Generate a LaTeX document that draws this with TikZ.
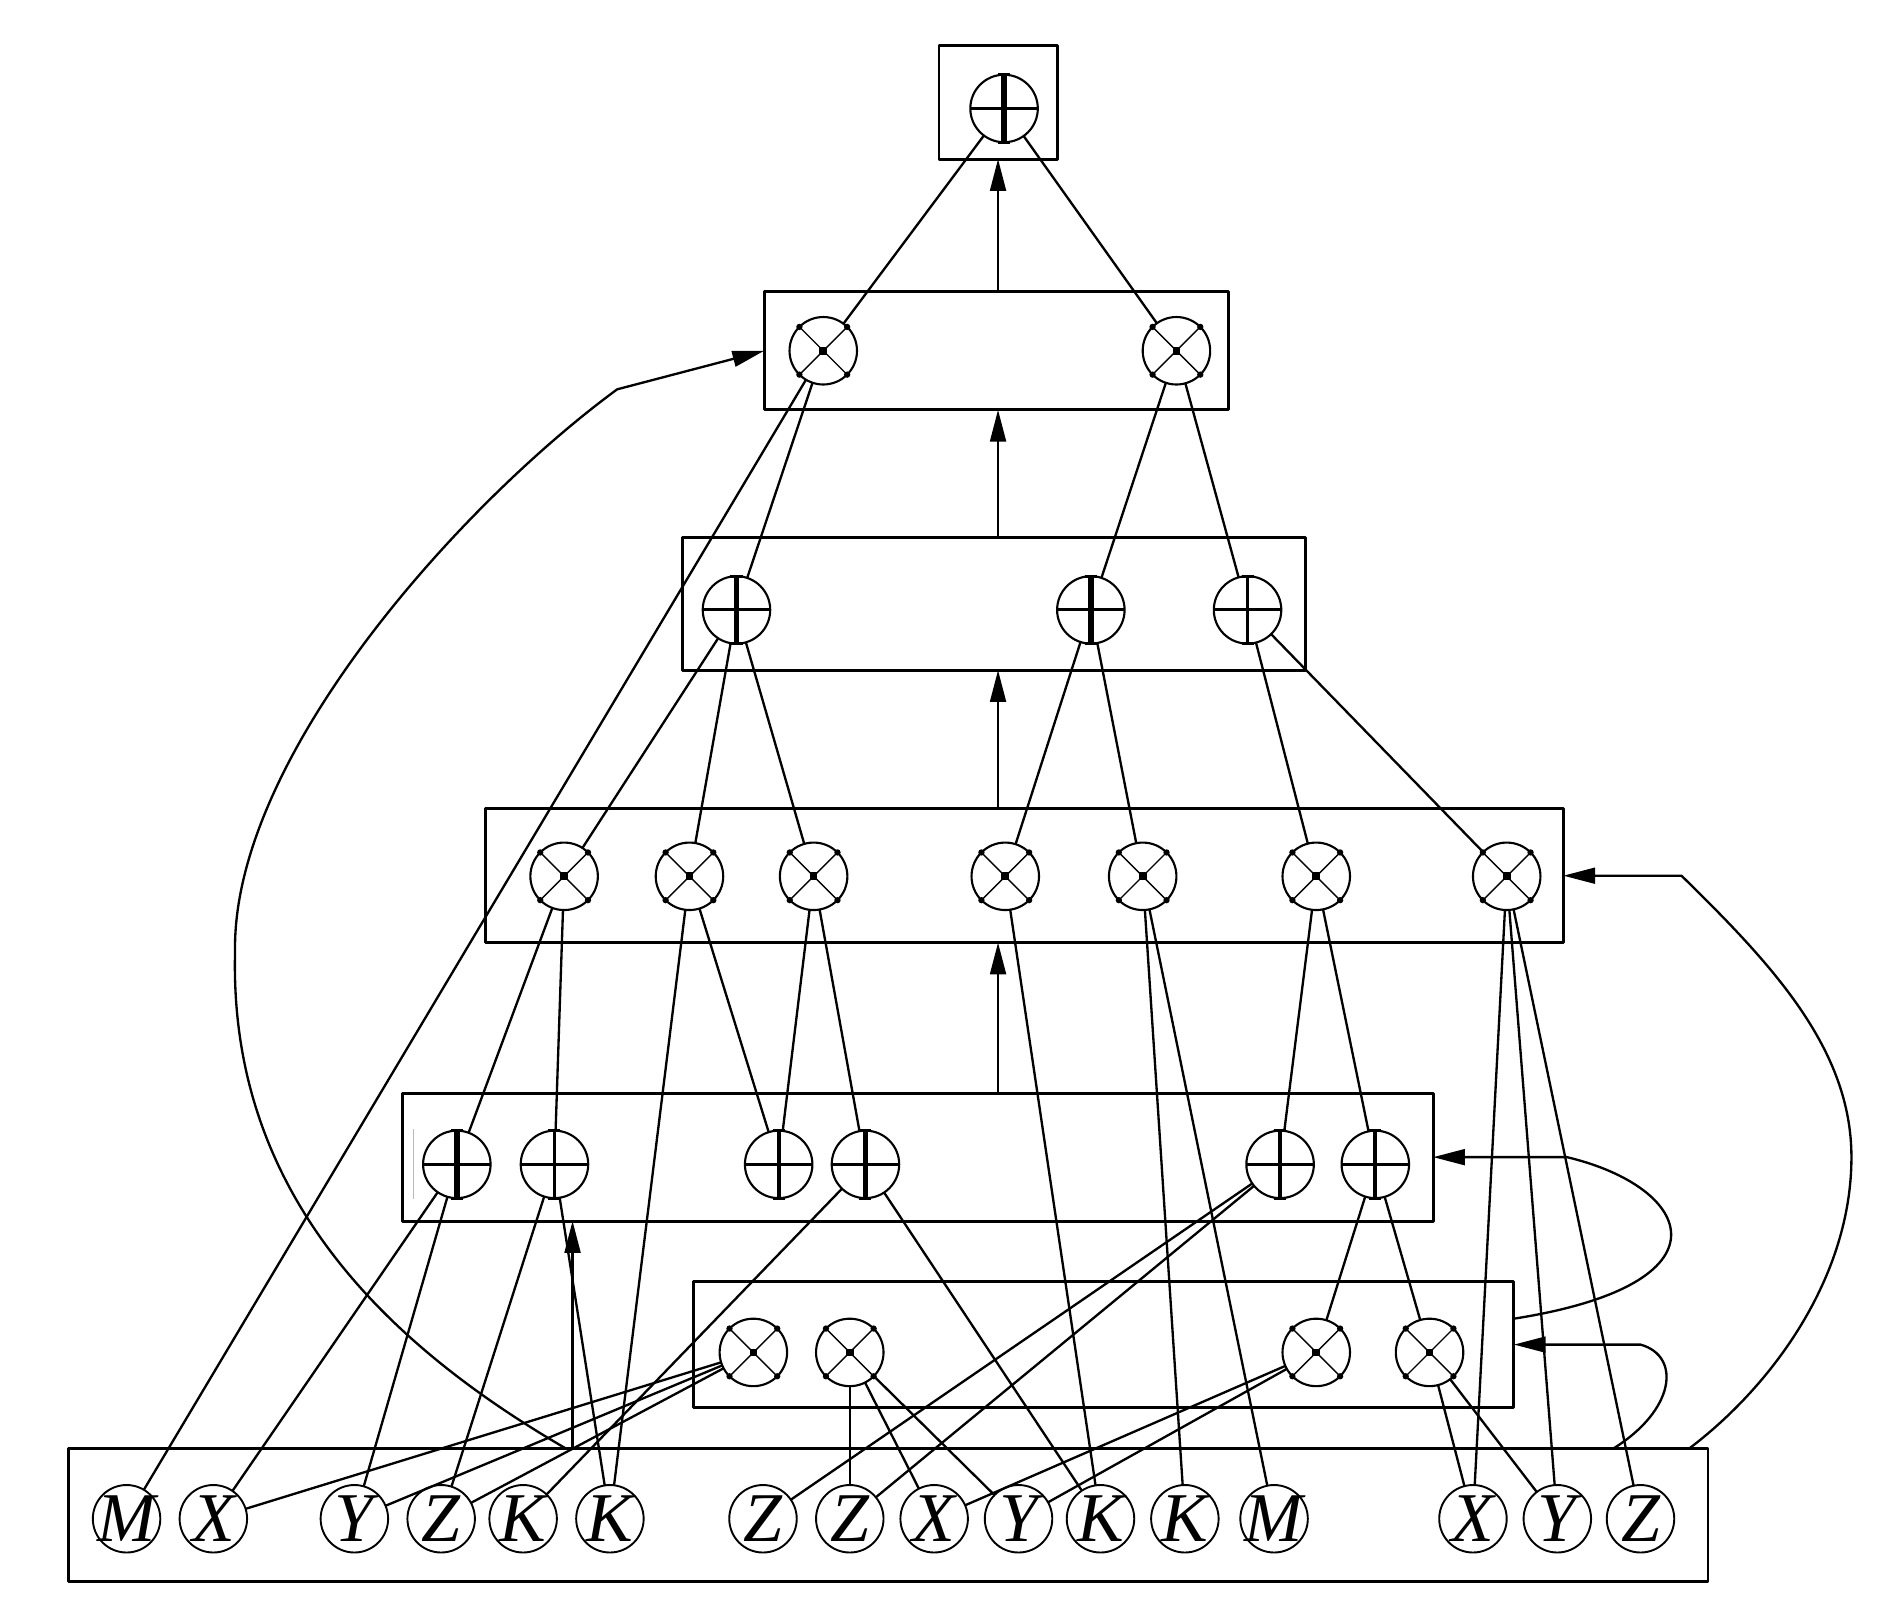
\documentclass[tikz,border=0pt]{standalone}
\usepackage{fontspec}
\setmainfont{Liberation Serif}
\usetikzlibrary{arrows.meta,fit,calc}
\begin{document}
\begin{tikzpicture}[x=0.02cm,y=-0.02cm,line join=round]
\tikzset{
  boxst/.style={draw,line width=1.4pt,inner sep=0pt,outer sep=0pt},
  opnode/.style={circle,draw,line width=1pt,minimum size=1.12cm,inner sep=0pt,outer sep=0pt},
  letnode/.style={circle,draw,line width=0.9pt,minimum size=1.12cm,inner sep=-2pt,outer sep=0pt,
                  font=\fontsize{33}{33}\selectfont\itshape},
  edge/.style={line width=1.1pt},
  arr/.style={line width=1.1pt,-{Triangle[length=15pt,width=7.5pt]}},
  curv/.style={line width=1.1pt,-{Triangle[length=15pt,width=7.5pt]}}
}
\useasboundingbox (0,0) rectangle (1568,1339);

% ---------- boxes ----------
\node[boxst,fit={(779,38) (877,132)}] (BT) {};
\node[boxst,fit={(634,242) (1019,340)}] (B2) {};
\node[boxst,fit={(566,446) (1083,556)}] (B3) {};
\node[boxst,fit={(403,671) (1297,782)}] (B4) {};
\node[boxst,fit={(334,907) (1189,1013)}] (B5) {};
\node[boxst,fit={(575,1063) (1256,1168)}] (B6) {};
\node[boxst,fit={(57,1202) (1417,1312)}] (BB) {};

% ---------- operator nodes ----------
\node[opnode] (T) at (833,90) {};
\node[opnode] (A1) at (683,291) {};
\node[opnode] (A2) at (976,291) {};
\node[opnode] (C1) at (611,506) {};
\node[opnode] (C2) at (905,506) {};
\node[opnode] (C3) at (1035,506) {};
\foreach \i/\xx in {1/468,2/572,3/675,4/834,5/948,6/1092,7/1250}
  \node[opnode] (D\i) at (\xx,727) {};
\foreach \i/\xx in {1/379,2/460,3/646,4/718,5/1062,6/1141}
  \node[opnode] (E\i) at (\xx,966) {};
\foreach \i/\xx in {1/625,2/705,3/1092,4/1186}
  \node[opnode] (F\i) at (\xx,1122) {};

% ---------- letter nodes ----------
\foreach \i/\xx/\t in {1/105/M,2/177/X,3/294/Y,4/366/Z,5/434/K,6/506/K,7/633/Z,8/705/Z,
                       9/775/X,10/845/Y,11/913/K,12/983/K,13/1057/M,14/1222/X,15/1292/Y,16/1361/Z}
  \node[letnode] (L\i) at (\xx,1260) {\t};

% ---------- plus symbols ----------
\foreach \n/\w in {T/2.6pt,C1/2.6pt,C2/2.6pt,C3/1.6pt,E1/2.6pt,E2/1.5pt,E3/1.8pt,E4/2.6pt,E5/1.6pt,E6/1.8pt}{
  \draw[line width=\w] (\n.north) -- (\n.south);
  \draw[line width=1.4pt] (\n.west) -- (\n.east);
  \draw[line width=1.3pt] ([xshift=-0.1cm]\n.north) -- ([xshift=0.1cm]\n.north);
  \draw[line width=1.3pt] ([xshift=-0.1cm]\n.south) -- ([xshift=0.1cm]\n.south);
}
% ---------- times symbols ----------
\foreach \n in {A1,A2,D1,D2,D3,D4,D5,D6,D7,F1,F2,F3,F4}{
  \draw[line width=0.65pt] (\n.north east) -- (\n.south west) (\n.north west) -- (\n.south east);
  \fill ($(\n.center)+(-3.2,-3.2)$) rectangle ($(\n.center)+(3.2,3.2)$);
  \foreach \a in {45,135,225,315} \fill (\n.\a) circle (1.5pt);
}

% small artifact line in box 5
\draw[gray!55,line width=0.6pt] (343,937) -- (343,995);

% ---------- edges ----------
\foreach \a/\b in {T/A1,T/A2,A1/C1,A1/L1,A2/C2,A2/C3,
  C1/D1,C1/D2,C1/D3,C2/D4,C2/D5,C3/D6,C3/D7,
  D1/E1,D1/E2,D2/E3,D2/L6,D3/E3,D3/E4,D4/L11,D5/L12,D5/L13,D6/E5,D6/E6,
  D7/L14,D7/L15,D7/L16,
  E1/L2,E1/L3,E2/L4,E2/L6,E4/L5,E4/L11,E5/L7,E5/L8,E6/F3,E6/F4,
  F1/L2,F1/L3,F1/L4,F2/L8,F2/L9,F2/L10,F3/L9,F3/L10,F4/L14,F4/L15}
  \draw[edge] (\a) -- (\b);

% ---------- vertical arrows between levels ----------
\draw[arr] (B2.north -| BT) -- (BT.south);
\draw[arr] (B3.north -| BT) -- (B2.south -| BT);
\draw[arr] (B4.north -| BT) -- (B3.south -| BT);
\draw[arr] (B5.north -| BT) -- (B4.south -| BT);
\coordinate (ua) at (475,1202);
\draw[arr] (ua) -- (B5.south -| ua);

% ---------- feedback curves ----------
\coordinate (lc0) at (470,1202);
\coordinate (lcc) at (512,323);
\draw[curv] (lc0) .. controls (320,1115) and (190,990) .. (195,790)
   .. controls (192,630) and (380,420) .. (lcc) -- (B2.west);

\coordinate (ra0) at (1401,1202);
\coordinate (rac) at (1395,726.5);
\draw[curv] (ra0) .. controls (1470,1150) and (1536,1060) .. (1536,960)
   .. controls (1536,870) and (1470,800) .. (rac) -- (B4.east);

\coordinate (rb0) at (1256,1094);
\coordinate (rbc) at (1300,960);
\draw[curv] (rb0) .. controls (1440,1065) and (1405,985) .. (rbc) -- (B5.east);

\coordinate (rc0) at (1338,1202);
\coordinate (rcc) at (1361,1115.5);
\draw[curv] (rc0) .. controls (1390,1170) and (1395,1125) .. (rcc) -- (B6.east);
\end{tikzpicture}
\end{document}
